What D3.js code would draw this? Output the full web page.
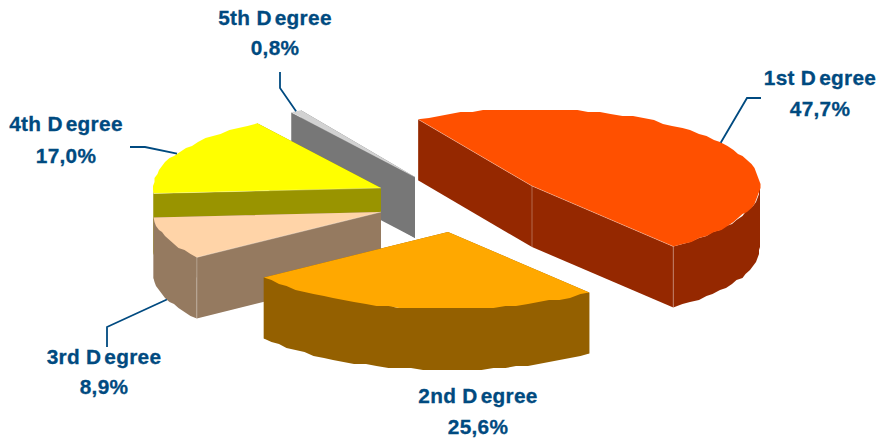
<!DOCTYPE html>
<html><head><meta charset="utf-8">
<script src="https://cdn.jsdelivr.net/npm/d3@7/dist/d3.min.js"></script>
<style>html,body{margin:0;background:#fff}svg{display:block}text{font-family:"Liberation Sans",Arial,sans-serif;font-weight:bold;font-size:20.8px;letter-spacing:.3px;fill:#004A80;stroke:#004A80;stroke-width:.3;text-anchor:middle}</style>
</head><body><svg id="c" width="879" height="444"></svg>
<script>
const categories = ["1st Degree","2nd Degree","3rd Degree","4th Degree","5th Degree"];
const shares = [47.7,25.6,8.9,17.0,0.8];
const shareLabels = ["47,7%","25,6%","8,9%","17,0%","0,8%"];
const topColors = ["#FF5000","#FFA800","#FFD4A8","#FFFF00","#D2D2D2"];
const wallColors = ["#952800","#946000","#957A60","#999400","#777777"];

// layout, separate from the data
const RX=228, RY=77, DEPTH=61, START=-30*Math.PI/180;
const centres = [[532,186],[448,232],[381,212],[381,188],[415,177]];
const labelPos = [[820,85,116],[478,403,434],[104,364,394],[66,131,163],[275,25,55]];
const leaderBends = [[[747,98],[761,98]],null,[[107,327],[107,347]],[[145,147],[130,147]],[[280,88],[280,72]]];
const paintOrder = [4,0,3,2,1];

const svg=d3.select("#c");
const arcs=d3.pie().sort(null).value(d=>d).startAngle(START).endAngle(START+2*Math.PI)(shares);
const px=d3.scaleLinear().domain([-1,1]).range([-RX,RX]);
const py=d3.scaleLinear().domain([-1,1]).range([RY,-RY]);
const pt=(i,a,dz=0)=>[centres[i][0]+px(Math.sin(a)),centres[i][1]+py(Math.cos(a))+dz];
const line=d3.line();
const snap=p=>[Math.round(p[0]/1.5)*1.5,Math.round(p[1]/2)*2];
function rim(i,a0,a1,dz=0){
  const n=Math.max(1,Math.ceil((a1-a0)/(3*Math.PI/180))),o=[];
  for(let k=0;k<=n;k++){const p=pt(i,a0+(a1-a0)*k/n,dz);o.push(k==0||k==n?p:snap(p));}
  return o;
}
const FRONT_A=Math.PI/2, FRONT_B=3*Math.PI/2;
paintOrder.forEach(i=>{
  const d=arcs[i],a0=d.startAngle,a1=d.endAngle,c=centres[i],w=wallColors[i];
  const g=svg.append("g");
  const apex=[c,[c[0],c[1]+DEPTH]];
  // radial walls
  [a1,a0].forEach(a=>{
    const p=pt(i,a),q=pt(i,a,DEPTH);
    g.append("path").attr("d",line([c,p,q,apex[1]])+"Z").attr("fill",w);
  });
  // outer wall on the front half of the ellipse
  const f0=Math.max(a0,FRONT_A),f1=Math.min(a1,FRONT_B);
  if(f1>f0){
    const upper=rim(i,f0,f1),lower=rim(i,f0,f1,DEPTH).reverse();
    g.append("path").attr("d",line(upper.concat(lower))+"Z").attr("fill",w);
  }
  // top face
  g.append("path").attr("d",line([c].concat(rim(i,a0,a1)))+"Z").attr("fill",topColors[i]);
  // pale edge lines
  const edges=[];
  const visStart=i===0||i===2||i===3||i===4, visEnd=i===0;
  if(visStart)edges.push([c,pt(i,a0)]);
  if(visEnd)edges.push([c,pt(i,a1)]);
  if(i===0){edges.push([c,apex[1]],[pt(i,a1),pt(i,a1,DEPTH)],[pt(i,a0),pt(i,a0,DEPTH)]);}
  if(i===2){edges.push([pt(i,a0),pt(i,a0,DEPTH)]);}
  edges.forEach(e=>g.append("path").attr("d",line(e)).attr("fill","none").attr("stroke","#fff").attr("stroke-opacity",.3).attr("stroke-width",1));
});
// leaders: start at the mid angle of each slice
leaderBends.forEach((b,i)=>{
  if(!b)return;
  const mid=(arcs[i].startAngle+arcs[i].endAngle)/2;
  const s=pt(i,mid,i===2?DEPTH:0);
  svg.append("path").attr("d",line([s].concat(b))).attr("fill","none").attr("stroke","#004A80").attr("stroke-width",1.8);
});
categories.forEach((n,i)=>{
  const [x,y1,y2]=labelPos[i],parts=n.split(" ");
  const t=svg.append("text").attr("x",x).attr("y",y1);
  t.append("tspan").text(parts[0]+" D");
  t.append("tspan").attr("dx",3).text(parts[1].slice(1));
  svg.append("text").attr("x",x).attr("y",y2).text(shareLabels[i]);
});
</script></body></html>
